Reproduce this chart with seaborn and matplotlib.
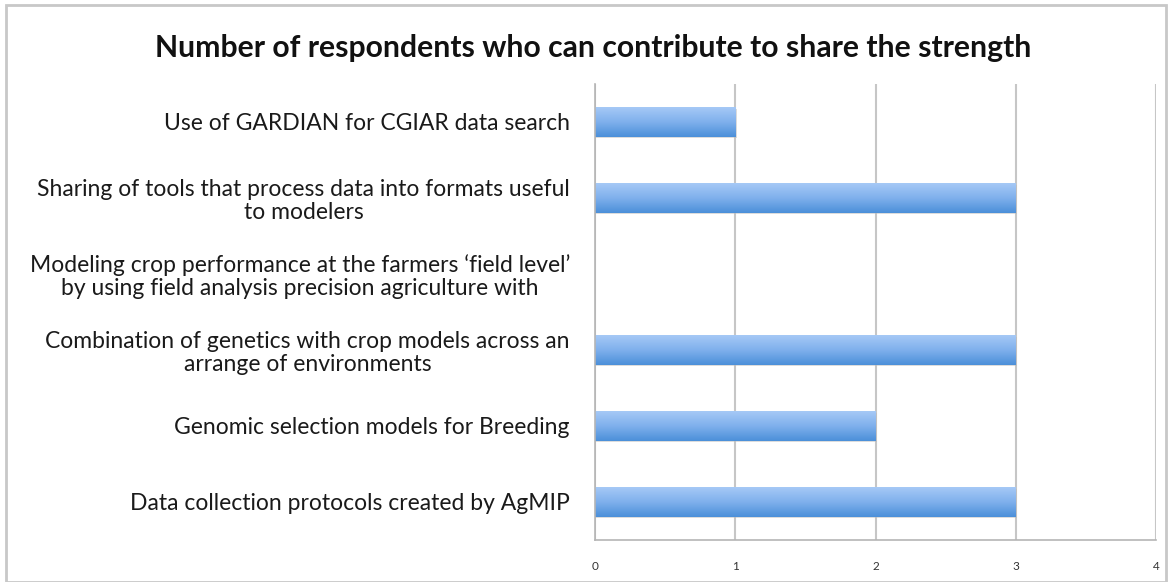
import numpy as np
import pandas as pd
import matplotlib
matplotlib.use("Agg")
import matplotlib.pyplot as plt
import seaborn as sns
from matplotlib.patches import Rectangle
from matplotlib.colors import LinearSegmentedColormap

categories = [
    "Use of GARDIAN for CGIAR data search",
    "Sharing of tools that process data into formats useful\nto modelers",
    "Modeling crop performance at the farmers \u2018field level\u2019\nby using field analysis precision agriculture with",
    "Combination of genetics with crop models across an\narrange of environments",
    "Genomic selection models for Breeding",
    "Data collection protocols created by AgMIP",
]
values = [1, 3, 0, 3, 2, 3]
x_ticks = [0, 1, 2, 3, 4]
title = "Number of respondents who can contribute to share the strength"

sns.set_theme(style="white")
plt.rcParams["font.family"] = ["Lato", "DejaVu Sans"]

df = pd.DataFrame({"category": categories, "value": values})

fig = plt.figure(figsize=(11.72, 5.82), dpi=100)
ax = fig.add_axes([595 / 1172, 42 / 582, 561 / 1172, 456 / 582])

sns.barplot(data=df, y="category", x="value", orient="h", ax=ax,
            color="#5b9be0", width=0.39, saturation=1, edgecolor="none")

# gradient fill on each bar
grad = np.linspace(0, 1, 256).reshape(-1, 1)
cmap = LinearSegmentedColormap.from_list("bar", ["#a6c9f6", "#7fb0ec", "#4b8fd9"])
for p in list(ax.patches):
    x0, y0 = p.get_x(), p.get_y()
    w, h = p.get_width(), p.get_height()
    if w <= 0:
        continue
    ax.add_patch(Rectangle((x0, y0 + 0.02), w + 0.012, h, facecolor="#bbbbbb",
                           edgecolor="none", alpha=0.5, zorder=1.5))
    p.set_facecolor("none")
    im = ax.imshow(grad, extent=[x0, x0 + w, y0 + h, y0], aspect="auto",
                   cmap=cmap, zorder=2, origin="upper")
    im.set_clip_path(p)
    p.set_zorder(2)

ax.set_xlim(0, 4)
ax.set_ylim(5.5, -0.5)
ax.set_xticks(x_ticks)
ax.set_xticklabels([str(t) for t in x_ticks], fontsize=8.5, color="#333333")
ax.set_xlabel("")
ax.set_ylabel("")
ax.grid(axis="x", color="#c6c6c6", linewidth=1.5, zorder=0)
ax.set_axisbelow(True)
for s in ["top", "right"]:
    ax.spines[s].set_visible(False)
for s in ["left", "bottom"]:
    ax.spines[s].set_color("#b5b5b5")
    ax.spines[s].set_linewidth(1.2)
ax.tick_params(axis="x", length=0, pad=15)
ax.tick_params(axis="y", length=0, pad=18)
for lab in ax.get_yticklabels():
    lab.set_fontsize(16.5)
    lab.set_color("#1a1a1a")
    lab.set_multialignment("center")
    lab.set_linespacing(1.1)

fig.text(593 / 1172, 1 - 48 / 582, title, ha="center", va="center",
         fontsize=21.7, fontweight="bold", color="#111111")

fig.patches.append(Rectangle((6 / 1172, 0), 1160 / 1172, 1 - 5 / 582,
                             transform=fig.transFigure, fill=False,
                             edgecolor="#c8c8c8", linewidth=2, zorder=10))

fig.savefig("out.png", dpi=100)
